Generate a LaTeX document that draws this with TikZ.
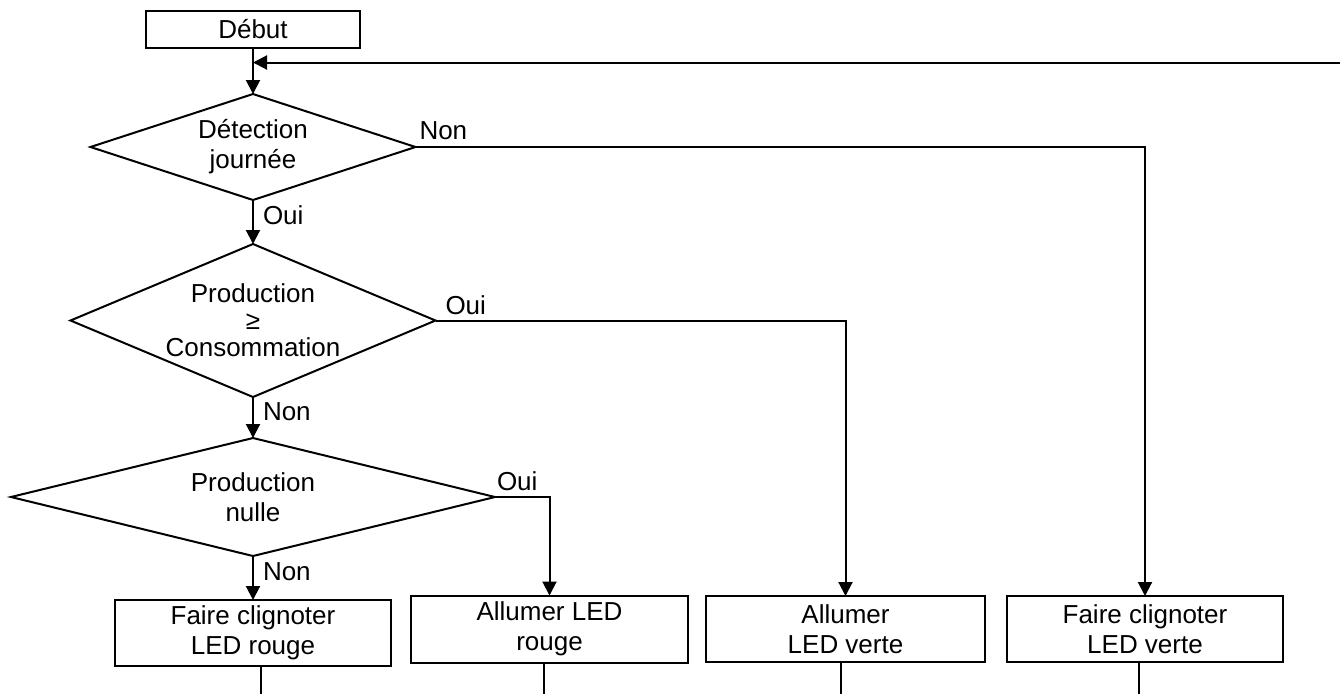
\documentclass[tikz,border=0pt]{standalone}
\usepackage{fontspec}
\setmainfont{Liberation Sans}
\usepackage{tikz}
\usetikzlibrary{shapes,positioning,arrows.meta}

\begin{document}
\begin{tikzpicture}[every node/.style={font=\fontsize{13pt}{15pt}\selectfont, align=center, outer sep=0pt},
		boite/.style={draw, rectangle, line width=1pt, inner sep=0pt, minimum width=138pt, minimum height=33pt},
		losange/.style={draw, diamond, aspect=3, inner sep=-6pt, line width=1pt},
		etiq/.style={inner sep=0pt},
		fleche/.style={line width=1pt, -{Triangle[length=7pt,width=7pt]}},
		sortie/.style={line width=0.6pt}]
	\useasboundingbox (0,0) rectangle (670pt,-346.5pt);
	
	\node [boite, minimum width=107pt, minimum height=18.5pt] (debut) at (126.5pt,-14.75pt) {Début};
	\node [losange, below=23pt of debut, minimum width=162.5pt, minimum height=53pt] (detect) {Détection\\journée};
	\node [losange, below=22pt of detect, minimum width=182.5pt, minimum height=76.5pt, font=\fontsize{13pt}{13.5pt}\selectfont] (prod) {Production\\≥\\Consommation};
	\node [losange, below=20.5pt of prod, minimum width=242pt, minimum height=59pt] (nulle) {Production\\nulle};
	
	\node [boite, below=22pt of nulle] (clignrouge) {Faire clignoter\\LED rouge};
	\node [boite, right=10pt of clignrouge, yshift=2pt, minimum width=138.5pt, minimum height=33.5pt] (allrouge) {Allumer LED\\rouge};
	\node [boite, right=9pt of allrouge, minimum width=139.5pt] (allverte) {Allumer\\LED verte};
	\node [boite, right=11pt of allverte] (clignverte) {Faire clignoter\\LED verte};
	
	\coordinate (retour) at (672pt,-31.25pt);
	\coordinate (fin1) at (130.5pt,-350pt);
	\coordinate (fin2) at (272pt,-350pt);
	\coordinate (fin3) at (420.5pt,-350pt);
	\coordinate (fin4) at (569.5pt,-350pt);
	
	\draw [fleche] (debut) -- (detect);
	\draw [fleche] (retour) -- (retour -| debut.south);
	\draw [fleche] (detect) -- node [etiq, right=5pt, pos=0.35] (oui1) {Oui} (prod);
	\draw [fleche] (prod) -- node [etiq, right=5pt, pos=0.35] (non2) {Non} (nulle);
	\draw [fleche] (nulle) -- node [etiq, right=5pt, pos=0.35] (non3) {Non} (clignrouge);
	
	\draw [fleche] (detect.east) -| (clignverte.north);
	\draw [fleche] (prod.east) -| (allverte.north);
	\draw [fleche] (nulle.east) -| (allrouge.north);
	
	\node [etiq, above right=3.5pt and 2pt of detect.east] (non1) {Non};
	\node [etiq, above right=3pt and 5pt of prod.east] (oui2) {Oui};
	\node [etiq, above right=3pt and 1pt of nulle.east] (oui3) {Oui};
	
	\draw [sortie] (fin1 |- clignrouge.south) -- (fin1);
	\draw [sortie] (fin2 |- allrouge.south) -- (fin2);
	\draw [sortie] (fin3 |- allverte.south) -- (fin3);
	\draw [sortie] (fin4 |- clignverte.south) -- (fin4);
\end{tikzpicture}
\end{document}
